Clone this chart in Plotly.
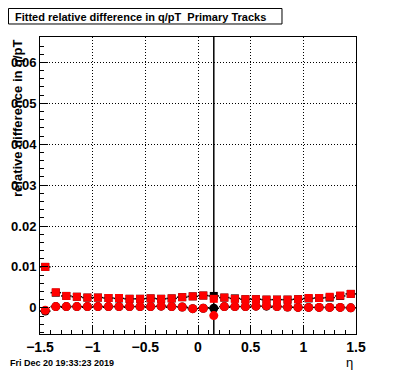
import plotly.graph_objects as go

eta = [-1.45, -1.35, -1.25, -1.15, -1.05, -0.95, -0.85, -0.75, -0.65, -0.55,
       -0.45, -0.35, -0.25, -0.15, -0.05, 0.05, 0.15, 0.25, 0.35, 0.45,
       0.55, 0.65, 0.75, 0.85, 0.95, 1.05, 1.15, 1.25, 1.35, 1.45]

red_sq = [0.0100, 0.0038, 0.0029, 0.0027, 0.0025, 0.0025, 0.0024, 0.0024, 0.0022, 0.0022,
          0.0023, 0.0022, 0.0023, 0.0026, 0.0028, 0.0030, 0.0022, 0.0025, 0.0022, 0.0021,
          0.0021, 0.0020, 0.0020, 0.0020, 0.0021, 0.0024, 0.0024, 0.0027, 0.0030, 0.0034]
blk_sq = [0.0100, 0.0037, 0.0029, 0.0027, 0.0025, 0.0025, 0.0024, 0.0023, 0.0022, 0.0022,
          0.0023, 0.0022, 0.0023, 0.0026, 0.0028, 0.0030, 0.0029, 0.0025, 0.0023, 0.0021,
          0.0021, 0.0020, 0.0020, 0.0020, 0.0021, 0.0023, 0.0024, 0.0025, 0.0029, 0.0034]
red_ci = [-0.0006, 0.0003, 0.0003, 0.0003, 0.0003, 0.0003, 0.0003, 0.0003, 0.0003, 0.0003,
          0.0003, 0.0004, 0.0003, 0.0002, -0.0002, -0.0001, -0.0019, 0.0003, 0.0003, 0.0003,
          0.0004, 0.0005, 0.0003, 0.0002, 0.0001, 0.0001, 0.0001, 0.0001, 0.0001, 0.0000]
blk_ci = [-0.0008, 0.0003, 0.0003, 0.0003, 0.0003, 0.0003, 0.0003, 0.0003, 0.0003, 0.0003,
          0.0003, 0.0004, 0.0003, 0.0002, -0.0002, -0.0001, -0.0001, 0.0003, 0.0003, 0.0003,
          0.0004, 0.0004, 0.0003, 0.0002, 0.0001, 0.0001, 0.0001, 0.0001, 0.0001, 0.0000]
blk_ci_err = [0.0003] * 16 + [1.0] + [0.0003] * 13
blk_sq_err = [0.0003] * 30
half_bin = [0.05] * 30

yticks = [0, 0.01, 0.02, 0.03, 0.04, 0.05, 0.06]
ytext = ["0", "0.01", "0.02", "0.03", "0.04", "0.05", "0.06"]
xticks = [-1.5, -1, -0.5, 0, 0.5, 1, 1.5]
xtext = ["\u22121.5", "\u22121", "\u22120.5", "0", "0.5", "1", "1.5"]

FONT = "Liberation Sans, Arial, sans-serif"

fig = go.Figure()
fig.add_trace(go.Scatter(
    x=eta, y=blk_sq, mode="markers",
    marker=dict(symbol="square", size=8, color="black"),
    error_x=dict(type="data", array=half_bin, color="black", thickness=1.5, width=0),
    error_y=dict(type="data", array=blk_sq_err, color="black", thickness=1.5, width=0),
))
fig.add_trace(go.Scatter(
    x=eta, y=blk_ci, mode="markers",
    marker=dict(symbol="circle", size=9, color="black"),
    error_x=dict(type="data", array=half_bin, color="black", thickness=1.5, width=0),
    error_y=dict(type="data", array=blk_ci_err, color="black", thickness=1.5, width=0),
))
fig.add_trace(go.Scatter(
    x=eta, y=red_sq, mode="markers",
    marker=dict(symbol="square", size=8, color="#ff0000"),
))
fig.add_trace(go.Scatter(
    x=eta, y=red_ci, mode="markers",
    marker=dict(symbol="circle", size=9, color="#ff0000"),
))

fig.update_layout(
    width=388, height=364,
    margin=dict(l=32, r=40, t=29, b=38),
    paper_bgcolor="white", plot_bgcolor="white",
    showlegend=False,
    font=dict(family=FONT, color="black"),
)
fig.update_xaxes(
    automargin=False,
    range=[-1.5, 1.5], tickvals=xticks, ticktext=xtext,
    showgrid=True, gridcolor="black", griddash="1px,2px", gridwidth=1,
    showline=True, linecolor="black", linewidth=1, mirror=True,
    ticks="inside", ticklen=8, tickcolor="black",
    minor=dict(ticks="inside", ticklen=4, dtick=0.1, tickcolor="black", showgrid=False),
    tickfont=dict(size=14, family=FONT, weight="bold"),
    zeroline=False,
)
fig.update_yaxes(
    automargin=False,
    range=[-0.0064, 0.0662], tickvals=yticks, ticktext=ytext,
    showgrid=True, gridcolor="black", griddash="1px,2px", gridwidth=1,
    showline=True, linecolor="black", linewidth=1, mirror=True,
    ticks="inside", ticklen=8, tickcolor="black",
    minor=dict(ticks="inside", ticklen=4, dtick=0.002, tickcolor="black", showgrid=False),
    tickfont=dict(size=13, family=FONT, weight="bold"),
    ticklabelstandoff=0,
    zeroline=False,
)

fig.add_shape(type="rect", xref="paper", yref="paper",
              x0=-0.0997, x1=0.7658, y0=1.0438, y1=1.0960,
              line=dict(color="black", width=1), fillcolor="white")
fig.add_annotation(text="Fitted relative difference in q/pT  Primary Tracks",
                   xref="paper", yref="paper", x=-0.0854, y=1.0690,
                   showarrow=False, xanchor="left", yanchor="middle",
                   font=dict(size=11, family=FONT, weight="bold"))
fig.add_annotation(text="relative difference in q/pT",
                   xref="paper", yref="paper", x=-0.0728, y=1.0,
                   textangle=-90, showarrow=False, xanchor="center", yanchor="top",
                   font=dict(size=13, family=FONT, weight="bold"))
fig.add_annotation(text="\u03b7",
                   xref="paper", yref="paper", x=0.981, y=-0.0976,
                   showarrow=False, xanchor="center", yanchor="middle",
                   font=dict(size=13, family=FONT))
fig.add_annotation(text="Fri Dec 20 19:33:23 2019",
                   xref="paper", yref="paper", x=-0.1013, y=-0.0976,
                   showarrow=False, xanchor="left", yanchor="middle",
                   font=dict(size=9, family=FONT, weight="bold"))

fig.write_html("out.html")
